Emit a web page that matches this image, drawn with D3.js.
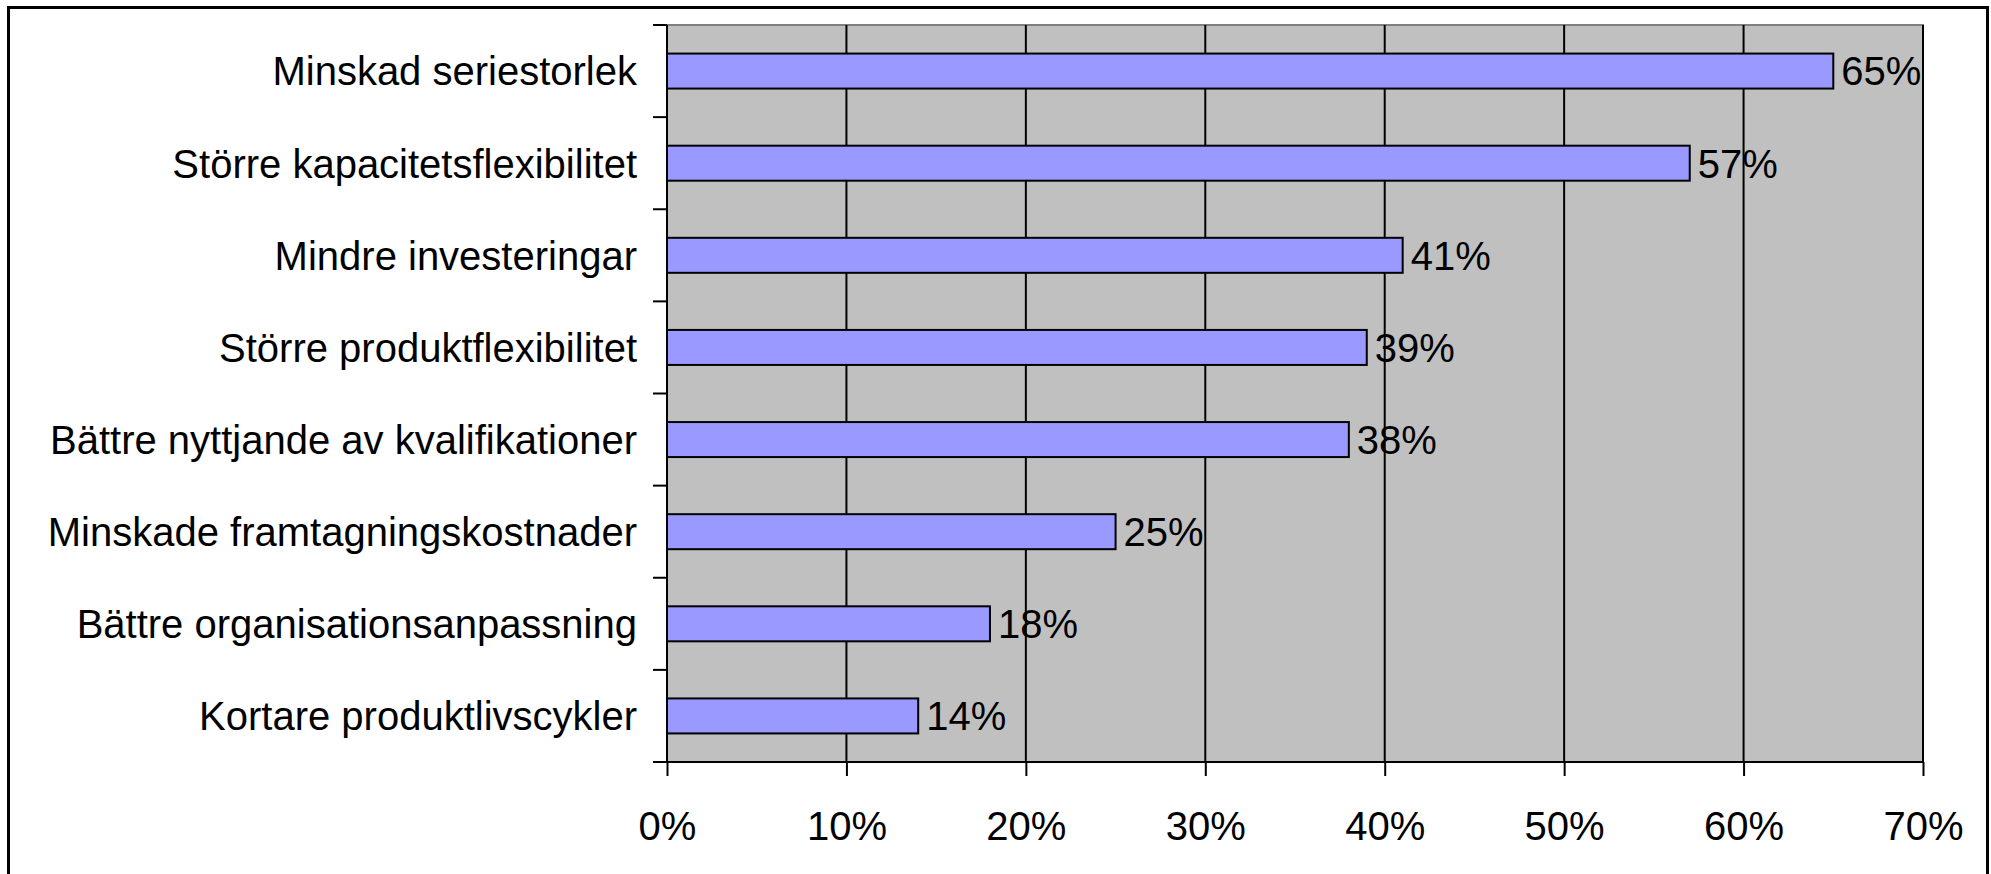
<!DOCTYPE html>
<html>
<head>
<meta charset="utf-8">
<script src="https://cdn.jsdelivr.net/npm/d3@7"></script>
<style>
  body { margin: 0; background: #fff; }
  svg text { font-family: "Liberation Sans", Arial, sans-serif; fill: #000; }
</style>
</head>
<body>
<svg id="chart" width="1991" height="874"></svg>
<script>
var categories = [
    "Minskad seriestorlek",
    "Större kapacitetsflexibilitet",
    "Mindre investeringar",
    "Större produktflexibilitet",
    "Bättre nyttjande av kvalifikationer",
    "Minskade framtagningskostnader",
    "Bättre organisationsanpassning",
    "Kortare produktlivscykler"
];
var values = [65, 57, 41, 39, 38, 25, 18, 14];
var xTicks = [0, 10, 20, 30, 40, 50, 60, 70];

var margin = { top: 25, right: 68, bottom: 112, left: 667 };
var width = 1991 - margin.left - margin.right;
var height = 874 - margin.top - margin.bottom;
var fontSize = "40px";

var svg = d3.select("#chart");

// outer frame
svg.append("rect")
    .attr("x", 8.5).attr("y", 7.5)
    .attr("width", 1979).attr("height", 870)
    .attr("fill", "none").attr("stroke", "#000").attr("stroke-width", 3);

var g = svg.append("g")
    .attr("transform", "translate(" + margin.left + "," + margin.top + ")");

var x = d3.scaleLinear().domain([0, 70]).range([0, width]);
var y = d3.scaleBand().domain(categories).range([0, height])
    .paddingInner(0.62).paddingOuter(0.31);

// plot background
g.append("rect")
    .attr("width", width).attr("height", height)
    .attr("fill", "#c0c0c0").attr("stroke", "#808080").attr("stroke-width", 2);

// gridlines
g.selectAll(".grid")
    .data(xTicks.slice(1)).enter().append("line")
    .attr("class", "grid")
    .attr("x1", function(d) { return x(d); }).attr("x2", function(d) { return x(d); })
    .attr("y1", 0).attr("y2", height)
    .attr("stroke", "#000").attr("stroke-width", 2);

// bars
g.selectAll(".bar")
    .data(values).enter().append("rect")
    .attr("class", "bar")
    .attr("x", x(0))
    .attr("y", function(d, i) { return y(categories[i]); })
    .attr("width", function(d) { return x(d) - x(0); })
    .attr("height", y.bandwidth())
    .attr("fill", "#9999ff").attr("stroke", "#000").attr("stroke-width", 2);

// value labels
g.selectAll(".val")
    .data(values).enter().append("text")
    .attr("class", "val")
    .attr("x", function(d) { return x(d) + 8; })
    .attr("y", function(d, i) { return y(categories[i]) + y.bandwidth() / 2; })
    .attr("dy", "0.36em")
    .style("font-size", fontSize)
    .text(function(d) { return d + "%"; });

// y axis: line, ticks between categories, labels
var step = y.step();
var yTickPos = d3.range(categories.length + 1).map(function(i) { return i * step; });
g.append("line")
    .attr("x1", 0).attr("x2", 0).attr("y1", 0).attr("y2", height)
    .attr("stroke", "#000").attr("stroke-width", 2);
g.selectAll(".ytick")
    .data(yTickPos).enter().append("line")
    .attr("class", "ytick")
    .attr("x1", -14).attr("x2", 0)
    .attr("y1", function(d) { return d; }).attr("y2", function(d) { return d; })
    .attr("stroke", "#000").attr("stroke-width", 2);
g.selectAll(".ylab")
    .data(categories).enter().append("text")
    .attr("class", "ylab")
    .attr("x", -30)
    .attr("y", function(d) { return y(d) + y.bandwidth() / 2; })
    .attr("dy", "0.36em")
    .attr("text-anchor", "end")
    .style("font-size", fontSize)
    .text(function(d) { return d; });

// x axis
var xAxis = g.append("g")
    .attr("transform", "translate(0," + height + ")")
    .call(d3.axisBottom(x).tickValues(xTicks)
        .tickFormat(function(d) { return d + "%"; })
        .tickSize(14).tickPadding(36));
xAxis.select(".domain")
    .attr("d", "M-14,0H" + width)
    .attr("stroke", "#000").attr("stroke-width", 2);
xAxis.selectAll(".tick line").attr("stroke", "#000").attr("stroke-width", 2);
xAxis.selectAll(".tick text")
    .style("font-size", fontSize)
    .attr("font-family", null)
    .attr("fill", "#000");
</script>
</body>
</html>
